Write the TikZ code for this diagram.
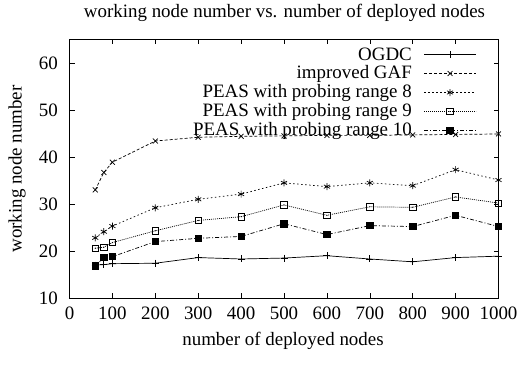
\documentclass[tikz,border=0pt]{standalone}
\usepackage{fontspec}
\setmainfont{Liberation Serif}
\usetikzlibrary{plotmarks}
\begin{document}
\begin{tikzpicture}[x=1bp,y=1bp,
  lbl/.style={inner sep=0pt,font=\fontsize{19}{22}\selectfont},
  ogdc/.style={line width=0.7bp,solid,mark=+,mark size=3.5bp,mark options={solid}},
  gaf/.style={line width=0.7bp,dash pattern=on 3bp off 2bp,mark=x,mark size=3.5bp,mark options={solid}},
  peaseight/.style={line width=0.7bp,dash pattern=on 1.5bp off 2.5bp,mark=asterisk,mark size=3.5bp,mark options={solid}},
  peasnine/.style={line width=0.7bp,dash pattern=on 1bp off 1bp,mark=square,mark size=3.2bp,mark options={solid}},
  peasten/.style={line width=0.7bp,dash pattern=on 4bp off 2bp on 1bp off 2bp,mark=square*,mark size=3.2bp,mark options={solid,fill=black}},
  tick/.style={line width=0.6bp}]
\useasboundingbox (0,0) rectangle (519,364);
\fill[white] (0,0) rectangle (519,364);
% frame
\draw[line width=0.8bp] (69.5,66) rectangle (498.5,325);
% ticks and labels
\foreach \v in {0,100,...,1000}{
  \pgfmathsetmacro\px{69.5+\v*0.429}
  \draw[tick] (\px,66) -- ++(0,5);
  \draw[tick] (\px,325) -- ++(0,-5);
  \node[lbl] (xt\v) at (\px,51) {\v};
}
\foreach \w in {10,20,...,60}{
  \pgfmathsetmacro\py{66+(\w-10)*4.7}
  \draw[tick] (69.5,\py) -- ++(5,0);
  \draw[tick] (498.5,\py) -- ++(-5,0);
  \node[lbl,anchor=east] (yt\w) at (58,\py) {\w};
}
\node[lbl] (title) at (284.5,351) {working node number vs. number of deployed nodes};
\node[lbl] (xlab) at (283,23) {number of deployed nodes};
\node[lbl,rotate=90] (ylab) at (17,195) {working node number};
% data
\begin{scope}[shift={(69.5bp,19bp)},x=0.429bp,y=4.7bp]
\draw[ogdc] plot coordinates {(60,17) (80,17.1) (100,17.3) (200,17.4) (300,18.6) (400,18.3) (500,18.5) (600,19) (700,18.3) (800,17.7) (900,18.6) (1000,18.9)};
\draw[gaf] plot coordinates {(60,33) (80,36.7) (100,38.9) (200,43.4) (300,44.2) (400,44.4) (500,44.5) (600,44.6) (700,44.6) (800,44.7) (900,44.8) (1000,44.9)};
\draw[peaseight] plot coordinates {(60,22.8) (80,24.1) (100,25.3) (200,29.2) (300,31) (400,32.1) (500,34.5) (600,33.7) (700,34.5) (800,33.9) (900,37.3) (1000,35.1)};
\draw[peasnine] plot coordinates {(60,20.6) (80,20.8) (100,21.8) (200,24.3) (300,26.5) (400,27.3) (500,29.8) (600,27.6) (700,29.4) (800,29.3) (900,31.5) (1000,30.2)};
\foreach \a/\b in {60/20.6,80/20.8,100/21.8,200/24.3,300/26.5,400/27.3,500/29.8,600/27.6,700/29.4,800/29.3,900/31.5,1000/30.2}
  \fill (\a,\b) circle[radius=0.6bp];
\draw[peasten] plot coordinates {(60,16.8) (80,18.6) (100,18.8) (200,22) (300,22.7) (400,23.1) (500,25.8) (600,23.5) (700,25.4) (800,25.2) (900,27.6) (1000,25.2)};
\end{scope}
% legend
\node[lbl,anchor=east] (l1) at (412,309.5) {OGDC};
\node[lbl,anchor=east] (l2) at (412,290.5) {improved GAF};
\node[lbl,anchor=east] (l3) at (412,271.5) {PEAS with probing range 8};
\node[lbl,anchor=east] (l4) at (412,252.5) {PEAS with probing range 9};
\node[lbl,anchor=east] (l5) at (412,233.5) {PEAS with probing range 10};
\draw[ogdc,mark=none] (424,309.5) -- (476,309.5);
\draw[ogdc] plot coordinates {(450,309.5)};
\draw[gaf,mark=none] (424,290.5) -- (476,290.5);
\draw[gaf] plot coordinates {(450,290.5)};
\draw[peaseight,mark=none] (424,271.5) -- (476,271.5);
\draw[peaseight] plot coordinates {(450,271.5)};
\draw[peasnine,mark=none] (424,252.5) -- (476,252.5);
\draw[peasnine] plot coordinates {(450,252.5)};
\fill (450,252.5) circle[radius=0.6bp];
\draw[peasten,mark=none] (424,233.5) -- (476,233.5);
\draw[peasten] plot coordinates {(450,233.5)};
\end{tikzpicture}
\end{document}
